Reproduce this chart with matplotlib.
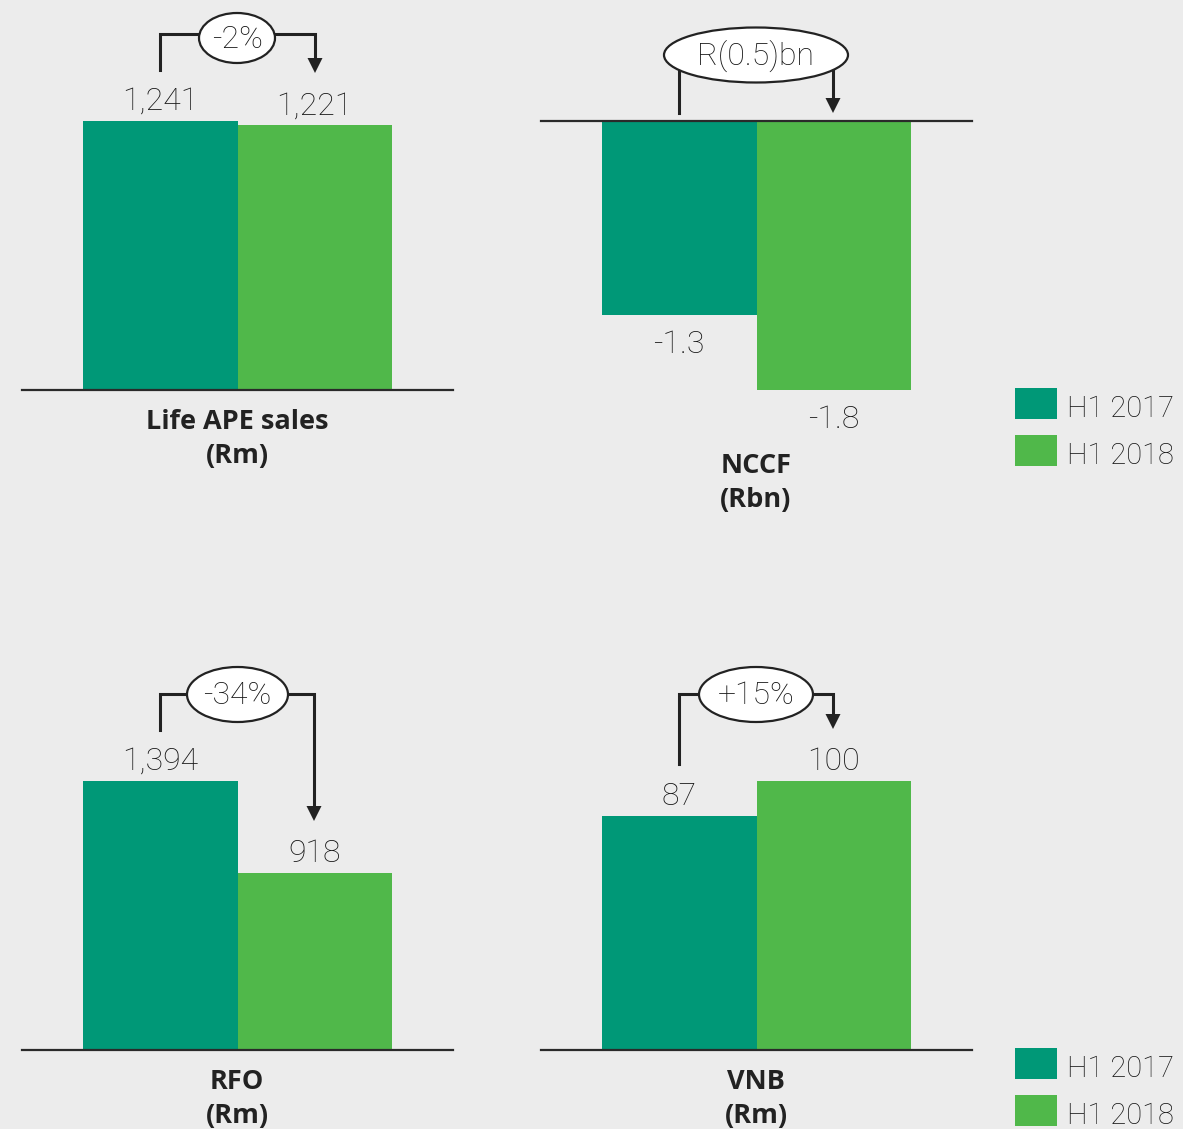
import matplotlib
matplotlib.use("Agg")
import matplotlib.pyplot as plt
from matplotlib.patches import Ellipse, Polygon, Rectangle

# ---------------- data ----------------
series = ["H1 2017", "H1 2018"]
ape_values = [1241, 1221]
nccf_values = [-1.3, -1.8]
rfo_values = [1394, 918]
vnb_values = [87, 100]
panel_titles = [("Life APE sales", "(Rm)"), ("NCCF", "(Rbn)"), ("RFO", "(Rm)"), ("VNB", "(Rm)")]
change_labels = ["-2%", "R(0.5)bn", "-34%", "+15%"]

# ---------------- style ----------------
W, H = 1183, 1129
BG = "#ececec"
C1 = "#009877"
C2 = "#50b84a"
TXT = "#161616"
LINE = "#222222"
VALFONT = dict(family=["Roboto", "DejaVu Sans"], weight="light")
BOLDFONT = dict(family=["Open Sans", "DejaVu Sans"], weight="bold")

fig = plt.figure(figsize=(W / 100, H / 100), dpi=100, facecolor=BG)


def add_ax(left, right, top, bottom):
    ax = fig.add_axes([left / W, 1 - bottom / H, (right - left) / W, (bottom - top) / H])
    ax.set_facecolor("none")
    ax.axis("off")
    return ax


def draw_panel(ax, values, fmt, negative=False):
    x = list(range(len(values)))
    ax.bar(x, values, width=1.0, color=[C1, C2], edgecolor="none", zorder=2)
    ax.set_xlim(-0.894, 1.894)
    if negative:
        ax.set_ylim(min(values), 0)
    else:
        ax.set_ylim(0, max(values))
    ax.axhline(0, color="#2a2a2a", lw=1.6, clip_on=False, zorder=3)
    for xi, v in zip(x, values):
        off = -27.5 if negative else 8
        ax.annotate(fmt(v), xy=(xi, v), xytext=(0, off), textcoords="offset points",
                    ha="center", va="baseline", fontsize=23, color=TXT,
                    annotation_clip=False, **VALFONT)


ax1 = add_ax(22, 453, 121, 390)
draw_panel(ax1, ape_values, lambda v: f"{v:,}")
ax2 = add_ax(541, 972, 121, 390)
draw_panel(ax2, nccf_values, lambda v: f"{v:.1f}", negative=True)
ax3 = add_ax(22, 453, 781, 1050)
draw_panel(ax3, rfo_values, lambda v: f"{v:,}")
ax4 = add_ax(541, 972, 781, 1050)
draw_panel(ax4, vnb_values, lambda v: f"{v:,}")

# ---------------- overlay (pixel coordinates) ----------------
ov = fig.add_axes([0, 0, 1, 1])
ov.set_xlim(0, W)
ov.set_ylim(H, 0)
ov.axis("off")
ov.set_facecolor("none")
ov.set_zorder(10)

# titles
title_pos = [(237, 429), (756, 473), (237, 1089), (756, 1089)]
for (l1, l2), (cx, by) in zip(panel_titles, title_pos):
    ov.text(cx, by, l1, ha="center", va="baseline", fontsize=19.5, color=LINE, **BOLDFONT)
    ov.text(cx, by + 34, l2, ha="center", va="baseline", fontsize=19.5, color=LINE, **BOLDFONT)

LW = 2.2


def arrow_head(x, tip):
    ov.add_patch(Polygon([(x - 7.5, tip - 15), (x + 7.5, tip - 15), (x, tip)],
                         closed=True, facecolor=LINE, edgecolor="none", zorder=5))


# panel 1 bracket
ov.plot([160, 160, 315, 315], [70, 34, 34, 60], color=LINE, lw=LW, solid_joinstyle="miter", zorder=4)
arrow_head(315, 73)
# panel 2 bracket
ov.plot([679, 679], [55, 113], color=LINE, lw=LW, zorder=4)
ov.plot([833, 833], [55, 100], color=LINE, lw=LW, zorder=4)
arrow_head(833, 113)
# panel 3 bracket
ov.plot([160, 160, 314, 314], [730, 694, 694, 808], color=LINE, lw=LW, solid_joinstyle="miter", zorder=4)
arrow_head(314, 821)
# panel 4 bracket
ov.plot([679, 679, 833, 833], [764, 694, 694, 716], color=LINE, lw=LW, solid_joinstyle="miter", zorder=4)
arrow_head(833, 729)

# ellipses with change labels
ell = [((237, 38), 76, 50), ((756, 55), 184, 55), ((237.5, 694.5), 101, 55), ((756, 694.5), 114, 55)]
for ((cx, cy), ew, eh), lab in zip(ell, change_labels):
    ov.add_patch(Ellipse((cx, cy), ew, eh, facecolor="white", edgecolor=LINE, lw=1.6, zorder=6))
    ov.text(cx, cy + 1, lab, ha="center", va="center", fontsize=23, color=TXT, zorder=7, **VALFONT)

# legends
for top in (388, 1048):
    for k, (name, col) in enumerate(zip(series, [C1, C2])):
        y0 = top + k * 47
        ov.add_patch(Rectangle((1015, y0), 42, 31, facecolor=col, edgecolor="none", zorder=5))
        ov.text(1067, y0 + 29, name, ha="left", va="baseline", fontsize=21, color=TXT, **VALFONT)

fig.savefig("out.png", dpi=100, facecolor=BG)
